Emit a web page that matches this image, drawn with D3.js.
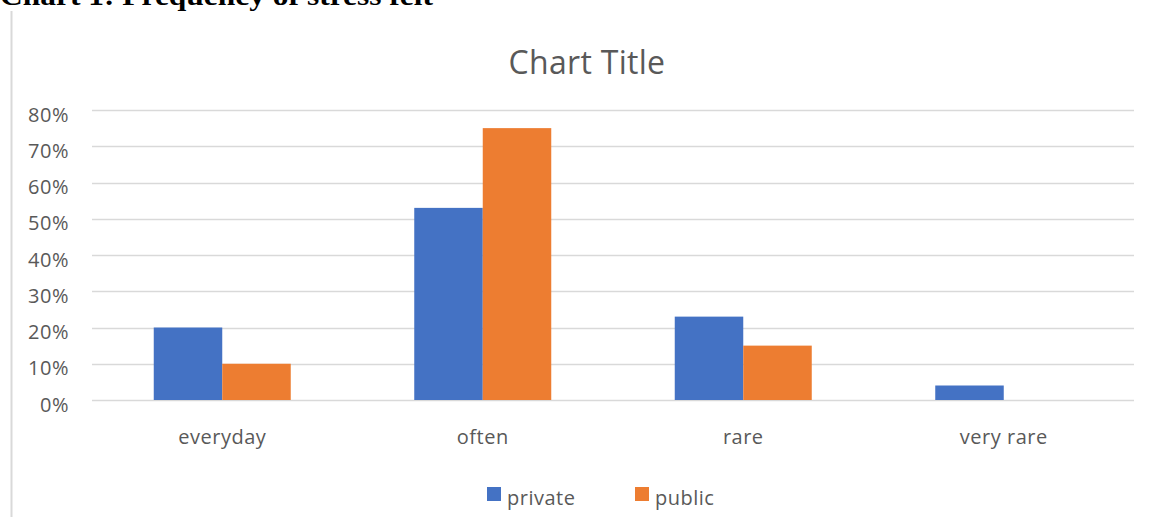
<!DOCTYPE html>
<html><head><meta charset="utf-8">
<script src="https://cdn.jsdelivr.net/npm/d3@7"></script>
<style>body{margin:0;background:#fff;overflow:hidden}</style>
</head><body>
<svg id="c" width="1151" height="517"></svg>
<script>
const categories = ["everyday", "often", "rare", "very rare"];
const seriesNames = ["private", "public"];
const privateValues = [0.20, 0.53, 0.23, 0.04];
const publicValues = [0.10, 0.75, 0.15, 0.00];
const yTicks = [0, 0.1, 0.2, 0.3, 0.4, 0.5, 0.6, 0.7, 0.8];
const colors = ["#4472C4", "#ED7D31"];
const font = "'Open Sans', 'Noto Sans', sans-serif";

const svg = d3.select("#c");
// heading cut off at top
svg.append("text").attr("x", 0).attr("y", 5)
  .attr("font-family", "'Liberation Serif', serif").attr("font-weight", "bold")
  .attr("font-size", 28).attr("textLength", 433).attr("lengthAdjust", "spacingAndGlyphs")
  .attr("fill", "#000").text("Chart 1: Frequency of stress felt");
// left border of frame
svg.append("line").attr("x1", 11.5).attr("x2", 11.5).attr("y1", 11).attr("y2", 517)
  .attr("stroke", "#d9d9d9").attr("stroke-width", 2);

const pLeft = 92, pRight = 1134, pTop = 110, pBottom = 400;
const x0 = d3.scaleBand().domain(categories).range([pLeft, pRight]).paddingInner(0).paddingOuter(0);
const y = d3.scaleLinear().domain([0, 0.8]).range([pBottom, pTop]);

// gridlines
svg.append("g").selectAll("line").data(yTicks).join("line")
  .attr("x1", pLeft).attr("x2", pRight)
  .attr("y1", d => Math.round(y(d)) + 0.5).attr("y2", d => Math.round(y(d)) + 0.5)
  .attr("stroke", "#d9d9d9").attr("stroke-width", 1.5);

// y axis labels
const yAxis = d3.axisLeft(y).tickValues(yTicks).tickFormat(d3.format(".0%")).tickSize(0).tickPadding(0);
const ga = svg.append("g").attr("transform", `translate(${pLeft - 23},4)`).call(yAxis);
ga.select(".domain").remove();
ga.selectAll("text").attr("font-family", font).attr("font-size", 20).attr("letter-spacing", 0.5)
  .attr("fill", "#595959").attr("dy", "0.35em");

// bars
const barW = 68.5;
const x1 = d3.scaleBand().domain(seriesNames).range([0, barW * 2]);
const data = categories.map((c, i) => ({c, vals: [privateValues[i], publicValues[i]]}));
const g = svg.append("g");
data.forEach(d => {
  const cx = x0(d.c) + x0.bandwidth() / 2 - barW;
  seriesNames.forEach((s, j) => {
    const v = d.vals[j];
    if (v <= 0) return;
    g.append("rect").attr("x", cx + x1(s)).attr("width", x1.bandwidth())
      .attr("y", y(v)).attr("height", y(0) - y(v)).attr("fill", colors[j]);
  });
});

// x axis labels
const xAxis = d3.axisBottom(x0).tickSize(0).tickPadding(0);
const gx = svg.append("g").attr("transform", `translate(0,${pBottom + 37})`).call(xAxis);
gx.select(".domain").remove();
gx.selectAll("text").attr("font-family", font).attr("font-size", 20).attr("letter-spacing", 0.5)
  .attr("fill", "#595959").attr("dy", "0.35em");

// title
svg.append("text").attr("x", 587).attr("y", 74).attr("text-anchor", "middle")
  .attr("font-family", font).attr("font-size", 32).attr("letter-spacing", 0.3)
  .attr("fill", "#595959").text("Chart Title");

// legend
const legX = [487, 635];
seriesNames.forEach((s, j) => {
  svg.append("rect").attr("x", legX[j]).attr("y", 487).attr("width", 14).attr("height", 14).attr("fill", colors[j]);
  svg.append("text").attr("x", legX[j] + 20).attr("y", 498).attr("dy", "0.35em")
    .attr("font-family", font).attr("font-size", 20).attr("letter-spacing", 0.5)
    .attr("fill", "#595959").text(s);
});
</script>
</body></html>
